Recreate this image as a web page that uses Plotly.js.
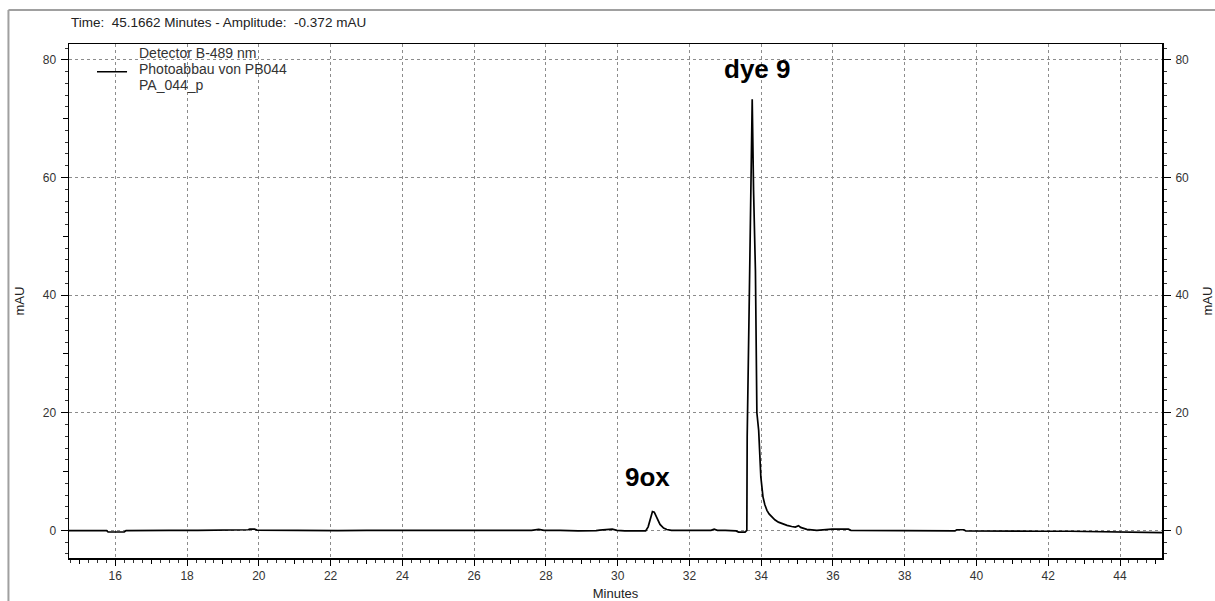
<!DOCTYPE html>
<html>
<head>
<meta charset="utf-8">
<script src="https://cdn.plot.ly/plotly-3.0.1.min.js"></script>
<style>
  html, body { margin: 0; padding: 0; background: #ffffff; }
  #chart { width: 1215px; height: 601px; }
</style>
</head>
<body>
<div id="chart"></div>
<script>
// Chromatogram: detector B at 489 nm, retention time (min) vs absorbance (mAU)
const timeMin = [
  14.71, 15.2, 15.6, 15.76, 15.8, 16.0, 16.25, 16.3, 16.8, 17.5, 18.3, 19.0, 19.6, 19.7, 19.75, 19.88, 19.95,
  20.6, 21.4, 22.2, 23.0, 23.8, 24.3, 24.6, 25.4, 26.2, 27.0, 27.6, 27.8, 27.95, 28.4, 28.9, 29.4, 29.5,
  29.85, 29.98, 30.2, 30.5, 30.78, 30.85, 30.92, 30.97, 31.02, 31.08, 31.18, 31.28, 31.37, 31.5, 32.0,
  32.6, 32.69, 32.78, 33.0, 33.3, 33.37, 33.55, 33.6, 33.61, 33.665, 33.71, 33.75, 33.787, 33.84,
  33.88, 33.93, 33.99, 34.05, 34.1, 34.16, 34.22, 34.3, 34.38, 34.48, 34.6, 34.72, 34.85, 34.95, 35.04,
  35.1, 35.27, 35.55, 35.97, 36.2, 36.43, 36.5, 37.0, 37.6, 38.2, 38.9, 39.4, 39.45, 39.65, 39.7, 40.3,
  41.0, 41.8, 42.6, 43.4, 44.2, 45.17
];
const absorbanceMAU = [
  -0.05, 0.0, 0.0, -0.05, -0.28, -0.3, -0.28, -0.05, 0.0, 0.0, 0.0, 0.0, 0.0, 0.1, 0.2, 0.2, 0.05,
  0.0, 0.0, -0.05, 0.0, 0.0, 0.05, -0.05, 0.0, 0.0, -0.05, 0.0, 0.15, 0.0, 0.0, -0.1, -0.05, 0.05,
  0.2, 0.0, -0.1, -0.05, -0.1, 0.6, 2.4, 3.2, 3.1, 2.2, 1.0, 0.4, 0.15, 0.0, 0.0,
  0.0, 0.2, 0.0, 0.0, -0.1, -0.3, -0.3, 0.0, 16.0, 38.0, 60.0, 73.3, 58.0, 44.0,
  20.0, 17.0, 9.1, 5.7, 4.4, 3.4, 2.8, 2.3, 1.8, 1.4, 1.1, 0.85, 0.65, 0.56, 0.8,
  0.5, 0.17, 0.0, 0.2, 0.2, 0.2, 0.0, 0.0, -0.05, -0.1, -0.1, -0.1, 0.1, 0.1, -0.1, -0.15,
  -0.15, -0.15, -0.15, -0.2, -0.2, -0.37
];

// Peak names and where they are written
const peakNames = ['dye 9', '9ox'];
const peakLabelTime = [33.9, 30.84];
const peakLabelMAU = [78.4, 9.0];

const xTickVals = [16, 18, 20, 22, 24, 26, 28, 30, 32, 34, 36, 38, 40, 42, 44];
const xMidTickVals = [15, 17, 19, 21, 23, 25, 27, 29, 31, 33, 35, 37, 39, 41, 43, 45];
const yTickVals = [0, 20, 40, 60, 80];
const yMidTickVals = [10, 30, 50, 70];

const legendLines = ['Detector B-489 nm', 'Photoabbau von PB044', 'PA_044_p'];
const legendLineY = [0.9833, 0.9508, 0.9210];
const statusText = 'Time:\u00a0 45.1662 Minutes - Amplitude:\u00a0 -0.372 mAU';

const xRange = [14.71, 45.17];
const yRange = [-4.7, 82.7];

const baseFont = 'Arial, "Liberation Sans", sans-serif';
const gridStyle = { showgrid: true, gridcolor: '#8c8c8c', gridwidth: 1, griddash: '3px,3px' };

const traces = [
  {
    x: timeMin, y: absorbanceMAU, type: 'scatter', mode: 'lines',
    line: { color: '#000000', width: 1.7 }, showlegend: false, hoverinfo: 'x+y'
  },
  {
    // carries the right-hand mAU scale
    x: timeMin, y: absorbanceMAU, type: 'scatter', mode: 'lines', yaxis: 'y2',
    line: { color: 'rgba(0,0,0,0)', width: 0 }, showlegend: false, hoverinfo: 'skip'
  },
  {
    // carries the intermediate tick marks
    x: timeMin, y: absorbanceMAU, type: 'scatter', mode: 'lines', xaxis: 'x2', yaxis: 'y3',
    line: { color: 'rgba(0,0,0,0)', width: 0 }, showlegend: false, hoverinfo: 'skip'
  }
];

const tickFont = { family: baseFont, size: 12, color: '#333333' };
const titleFont = { family: baseFont, size: 13, color: '#222222' };

const layout = {
  width: 1215, height: 601,
  margin: { l: 69, r: 53, t: 44, b: 43 },
  paper_bgcolor: '#ffffff', plot_bgcolor: '#ffffff',
  font: { family: baseFont, size: 12, color: '#222222' },
  xaxis: Object.assign({
    range: xRange, tickmode: 'array', tickvals: xTickVals,
    ticks: 'outside', ticklen: 6, tickwidth: 1, tickcolor: '#000',
    minor: { dtick: 0.25, tick0: 0, ticks: 'outside', ticklen: 3, tickwidth: 1, tickcolor: '#333', showgrid: false },
    showline: true, linecolor: '#000', linewidth: 1.5, mirror: true,
    zeroline: false, tickfont: tickFont,
    title: { text: 'Minutes', font: titleFont, standoff: 11 }
  }, gridStyle),
  xaxis2: {
    range: xRange, overlaying: 'x', anchor: 'y3', side: 'bottom', tickmode: 'array', tickvals: xMidTickVals,
    ticks: 'outside', ticklen: 5, tickwidth: 1, tickcolor: '#000',
    showticklabels: false, showline: false, showgrid: false, zeroline: false
  },
  yaxis: Object.assign({
    range: yRange, tickmode: 'array', tickvals: yTickVals,
    ticks: 'outside', ticklen: 7, tickwidth: 1, tickcolor: '#000',
    minor: { dtick: 2, tick0: 0, ticks: 'outside', ticklen: 3, tickwidth: 1, tickcolor: '#333', showgrid: false },
    showline: true, linecolor: '#000', linewidth: 1.5,
    zeroline: false, tickfont: tickFont, ticklabelstandoff: 2,
    title: { text: 'mAU', font: titleFont, standoff: 15 }
  }, gridStyle),
  yaxis2: {
    range: yRange, overlaying: 'y', side: 'right', tickmode: 'array', tickvals: yTickVals,
    ticks: 'outside', ticklen: 7, tickwidth: 1, tickcolor: '#000',
    minor: { dtick: 2, tick0: 0, ticks: 'outside', ticklen: 3, tickwidth: 1, tickcolor: '#333', showgrid: false },
    showline: true, linecolor: '#000', linewidth: 2,
    showgrid: false, zeroline: false, tickfont: tickFont, ticklabelstandoff: 2,
    title: { text: 'mAU', font: titleFont, standoff: 20 }
  },
  yaxis3: {
    range: yRange, overlaying: 'y', anchor: 'x2', side: 'left', tickmode: 'array', tickvals: yMidTickVals,
    ticks: 'outside', ticklen: 5, tickwidth: 1, tickcolor: '#000',
    showticklabels: false, showline: false, showgrid: false, zeroline: false
  },
  annotations: [
    {
      text: statusText, xref: 'paper', yref: 'paper', x: 0.0, y: 1.041,
      xanchor: 'left', yanchor: 'middle', showarrow: false,
      font: { family: baseFont, size: 13.5, color: '#222' }
    }
  ].concat(legendLines.map((line, i) => ({
    text: line, xref: 'paper', yref: 'paper', x: 0.0622, y: legendLineY[i],
    xanchor: 'left', yanchor: 'middle', align: 'left', showarrow: false,
    font: { family: baseFont, size: 14, color: '#333' }
  }))).concat(peakNames.map((name, i) => ({
    text: '<b>' + name + '</b>', x: peakLabelTime[i], y: peakLabelMAU[i], xref: 'x', yref: 'y',
    showarrow: false, xanchor: 'center', yanchor: 'middle',
    font: { family: baseFont, size: 26, color: '#000' }
  }))),
  shapes: [
    // legend line sample
    { type: 'line', xref: 'paper', yref: 'paper', x0: 0.0256, x1: 0.0531, y0: 0.946, y1: 0.946,
      line: { color: '#000', width: 1.5 } },
    // window frame
    { type: 'line', xref: 'paper', yref: 'paper', x0: -0.0554, x1: 1.05, y0: 1.0662, y1: 1.0662,
      line: { color: '#a0a0a0', width: 2 } },
    { type: 'line', xref: 'paper', yref: 'paper', x0: -0.0554, x1: -0.0554, y0: 1.0662, y1: -0.09,
      line: { color: '#a0a0a0', width: 2 } }
  ]
};

Plotly.newPlot('chart', traces, layout, { displayModeBar: false, staticPlot: true });
</script>
</body>
</html>
